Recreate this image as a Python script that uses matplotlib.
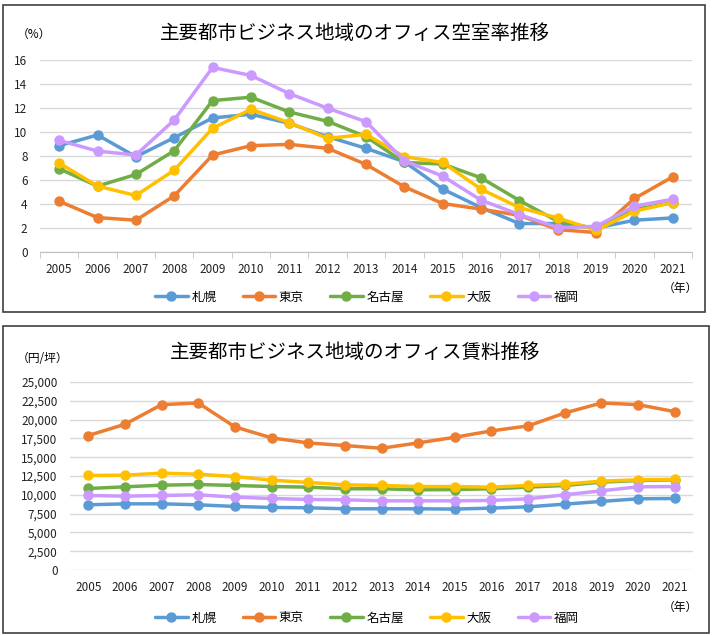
import matplotlib
matplotlib.use("Agg")
import matplotlib.pyplot as plt
from matplotlib.patches import Rectangle
from matplotlib.ticker import FuncFormatter

plt.rcParams["font.family"] = ["Noto Sans CJK JP", "DejaVu Sans"]

W, H = 712, 636

years = [str(y) for y in range(2005, 2022)]
cities = ["札幌", "東京", "名古屋", "大阪", "福岡"]
colors = ["#5B9BD5", "#ED7D31", "#70AD47", "#FFC000", "#CC99FF"]

# vacancy rate (%)
vac_sapporo = [8.86, 9.75, 7.94, 9.53, 11.17, 11.48, 10.72, 9.61, 8.64, 7.52, 5.24, 3.70, 2.37, 2.37, 2.00, 2.65, 2.84]
vac_tokyo = [4.23, 2.87, 2.65, 4.68, 8.08, 8.86, 8.97, 8.64, 7.30, 5.43, 4.04, 3.57, 3.06, 1.87, 1.62, 4.46, 6.27]
vac_nagoya = [6.94, 5.49, 6.46, 8.44, 12.62, 12.90, 11.67, 10.89, 9.61, 7.46, 7.33, 6.18, 4.29, 2.56, 1.95, 3.54, 4.12]
vac_osaka = [7.41, 5.49, 4.71, 6.82, 10.31, 11.89, 10.78, 9.47, 9.80, 7.94, 7.46, 5.24, 3.70, 2.84, 1.81, 3.40, 4.12]
vac_fukuoka = [9.30, 8.41, 8.08, 11.00, 15.38, 14.71, 13.20, 11.98, 10.86, 7.60, 6.32, 4.32, 3.12, 2.03, 2.14, 3.82, 4.40]

# rent (yen / tsubo)
rent_sapporo = [8670, 8800, 8800, 8670, 8450, 8320, 8270, 8140, 8140, 8140, 8100, 8230, 8400, 8760, 9120, 9470, 9510]
rent_tokyo = [17880, 19380, 21990, 22210, 19030, 17570, 16900, 16550, 16190, 16900, 17650, 18500, 19160, 20880, 22210, 21990, 21060]
rent_nagoya = [10840, 11060, 11280, 11370, 11240, 11100, 11020, 10800, 10800, 10660, 10700, 10800, 11020, 11240, 11680, 11900, 11990]
rent_osaka = [12570, 12610, 12880, 12740, 12430, 11950, 11640, 11330, 11240, 11100, 11100, 11020, 11240, 11420, 11810, 11990, 12040]
rent_fukuoka = [9910, 9820, 9910, 10000, 9690, 9510, 9380, 9340, 9200, 9200, 9200, 9250, 9470, 10000, 10530, 11060, 11100]

vacancy = [vac_sapporo, vac_tokyo, vac_nagoya, vac_osaka, vac_fukuoka]
rent = [rent_sapporo, rent_tokyo, rent_nagoya, rent_osaka, rent_fukuoka]

fig = plt.figure(figsize=(W / 100, H / 100), dpi=100)


def fx(px):
    return px / W


def fy(py):
    return 1 - py / H


def panel(x0, y0, x1, y1):
    fig.patches.append(Rectangle((fx(x0), fy(y1)), fx(x1 - x0), (y1 - y0) / H,
                                 transform=fig.transFigure, fill=False,
                                 edgecolor="#404040", lw=1.2))


def chart(series, box, ylim, yticks, fmt, title, title_y, unit, unit_xy, legend_y, nen_y, axis_line):
    left, top, right, bottom = box
    ax = fig.add_axes([fx(left), fy(bottom), fx(right - left), (bottom - top) / H])
    x = list(range(len(years)))
    for vals, lab, col in zip(series, cities, colors):
        ax.plot(x, vals, color=col, lw=2.5, marker="o", ms=6.5, label=lab,
                solid_capstyle="round")
    ax.set_xlim(-0.5, len(years) - 0.5)
    ax.set_ylim(*ylim)
    ax.set_yticks(yticks)
    ax.yaxis.set_major_formatter(FuncFormatter(fmt))
    ax.set_xticks(x)
    ax.set_xticklabels(years)
    ax.grid(axis="y", color="#D9D9D9", lw=1.0)
    ax.set_axisbelow(True)
    for s in ["top", "right", "left"]:
        ax.spines[s].set_visible(False)
    if axis_line:
        ax.spines["bottom"].set_color("#BFBFBF")
        ax.set_xticks([i - 0.5 for i in range(len(years) + 1)], minor=True)
        ax.tick_params(axis="x", which="minor", length=4, color="#BFBFBF")
    else:
        ax.spines["bottom"].set_visible(False)
    ax.tick_params(axis="x", which="major", length=0, pad=8, labelsize=8.5, labelcolor="#222222")
    ax.tick_params(axis="y", length=0, pad=9, labelsize=8.5, labelcolor="#222222")
    fig.text(fx(355), fy(title_y), title, ha="center", va="center", fontsize=14)
    fig.text(fx(unit_xy[0]), fy(unit_xy[1]), unit, ha="left", va="center", fontsize=8.5)
    fig.text(fx(680), fy(nen_y), "（年）", ha="center", va="center", fontsize=8.5)
    fig.legend(*ax.get_legend_handles_labels(), loc="center", ncol=5,
               bbox_to_anchor=(fx(367), fy(legend_y)), frameon=False,
               fontsize=9, handlelength=2.6, columnspacing=2.1, handletextpad=0.3)
    return ax


panel(3, 5, 705, 312)
panel(3, 326, 709, 633)

chart(vacancy, (40, 60, 692, 252), (0, 16), range(0, 17, 2),
      lambda v, p: f"{v:.0f}", "主要都市ビジネス地域のオフィス空室率推移",
      33, "（%）", (17, 34), 297, 288, True)

chart(rent, (70, 382, 693, 570), (0, 25000), range(0, 25001, 2500),
      lambda v, p: f"{v:,.0f}", "主要都市ビジネス地域のオフィス賃料推移",
      352, "（円/坪）", (17, 358), 618, 607, False)

fig.savefig("out.png", dpi=100)
